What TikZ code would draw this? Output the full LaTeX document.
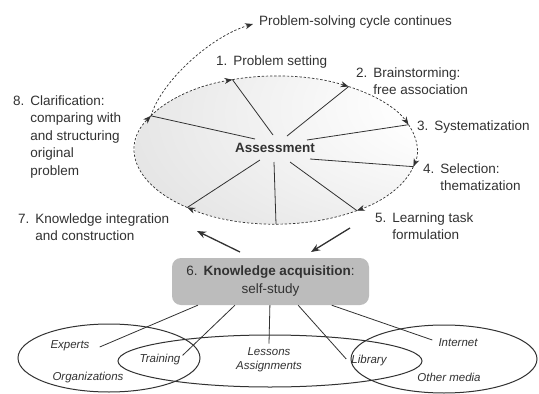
\documentclass[tikz,border=0pt]{standalone}
\usepackage{fontspec}
\setmainfont{Liberation Sans}
\usetikzlibrary{arrows.meta,calc}
\definecolor{txt}{RGB}{50,50,50}
\definecolor{boxgray}{RGB}{188,188,188}
\definecolor{shgray}{RGB}{178,178,178}
\definecolor{midgray}{RGB}{218,218,218}
\pgfdeclareradialshading{asmt}{\pgfpoint{45bp}{20bp}}{color(0bp)=(white); color(15bp)=(white); color(65bp)=(midgray); color(100bp)=(shgray)}
\begin{document}
\begin{tikzpicture}[x=1pt,y=-1pt,
  lab/.style={font=\fontsize{13.5}{17.6}\selectfont, text=txt, inner sep=0pt, anchor=base west},
  small/.style={font=\fontsize{11.5}{14}\selectfont\itshape, text=txt, inner sep=0pt},
  cyc/.style={draw=txt, dash pattern=on 2.4pt off 1.8pt, line width=0.7pt, -{Stealth[length=8pt,width=6pt]}},
  spoke/.style={draw=txt, line width=0.8pt},
  bigarrow/.style={draw=txt, line width=1.3pt, -{Stealth[length=9pt,width=7pt]}},
  oval/.style={draw=txt, line width=1pt},
  conn/.style={draw=txt, line width=0.8pt},
  kbox/.style={fill=boxgray, rounded corners=9pt, minimum width=197pt, minimum height=47pt, inner sep=0pt, align=center, text=txt, font=\fontsize{13.5}{18}\selectfont}
]
\useasboundingbox (0,0) rectangle (539,394);
\fill[white] (0,0) rectangle (539,394);

% main ellipse
\coordinate (C) at (276,150);
\shade[shading=asmt] (C) ellipse[x radius=141, y radius=74];
\node[font=\fontsize{13.5}{16}\selectfont\bfseries, text=txt, inner sep=0pt] (A) at (275,148) {Assessment};

% spoke end points on the ellipse
\path (C) ++(252:141 and 74) coordinate (e1);
\path (C) ++(301:141 and 74) coordinate (e2);
\path (C) ++(340:141 and 74) coordinate (e3);
\path (C) ++(13:141 and 74) coordinate (e4);
\path (C) ++(55:141 and 74) coordinate (e5);
\path (C) ++(90:141 and 74) coordinate (e6);
\path (C) ++(129:141 and 74) coordinate (e7);
\path (C) ++(207.5:141 and 74) coordinate (e8);
% spoke start points
\coordinate (s1) at (273,135);
\coordinate (s2) at (287,136);
\coordinate (s3) at (307,140);
\coordinate (s4) at (310,159);
\coordinate (s5) at (290,162);
\coordinate (s6) at (274,162);
\coordinate (s7) at (260,160);
\coordinate (s8) at (255,139);
\foreach \i in {1,...,8} \draw[spoke] (s\i) -- (e\i);

% dashed cycle with arrowheads
\draw[cyc] (e8) arc[start angle=207.5, end angle=252, x radius=141, y radius=74];
\draw[cyc] (e1) arc[start angle=252, end angle=301, x radius=141, y radius=74];
\draw[cyc] (e2) arc[start angle=301, end angle=340, x radius=141, y radius=74];
\draw[cyc] (e3) arc[start angle=340, end angle=373, x radius=141, y radius=74];
\draw[cyc] (e4) arc[start angle=373, end angle=415, x radius=141, y radius=74];
\draw[cyc] (e5) arc[start angle=415, end angle=489, x radius=141, y radius=74];
\draw[cyc] (e7) arc[start angle=489, end angle=567.5, x radius=141, y radius=74];

% cycle continues
\node[lab, anchor=west] (pscc) at (259,22) {Problem-solving cycle continues};
\coordinate (oc) at (253,24);
\draw[cyc] (e8) .. controls (162,80) and (212,36) .. (oc);

% step labels
\node[lab] (l1) at (216,65) {\begin{tabular}[t]{@{}l@{\hspace{6pt}}l@{}}1.&Problem setting\end{tabular}};
\node[lab] (l2) at (356,77) {\begin{tabular}[t]{@{}l@{\hspace{6pt}}l@{}}2.&Brainstorming:\\&free association\end{tabular}};
\node[lab] (l3) at (417,130) {\begin{tabular}[t]{@{}l@{\hspace{6pt}}l@{}}3.&Systematization\end{tabular}};
\node[lab] (l4) at (423,173) {\begin{tabular}[t]{@{}l@{\hspace{6pt}}l@{}}4.&Selection:\\&thematization\end{tabular}};
\node[lab] (l5) at (375,222) {\begin{tabular}[t]{@{}l@{\hspace{6pt}}l@{}}5.&Learning task\\&formulation\end{tabular}};
\node[lab] (l7) at (18,223) {\begin{tabular}[t]{@{}l@{\hspace{6pt}}l@{}}7.&Knowledge integration\\&and construction\end{tabular}};
\node[lab] (l8) at (13,105) {\begin{tabular}[t]{@{}l@{\hspace{6pt}}l@{}}8.&Clarification:\\&comparing with\\&and structuring\\&original\\&problem\end{tabular}};

% knowledge acquisition box
\node[kbox] (box) at (270.5,281.5) {6.\hspace{6pt}\textbf{Knowledge acquisition}:\\self-study};
\coordinate (a7s) at (240,252);
\coordinate (a7e) at (197,231);
\coordinate (a5s) at (350,228);
\coordinate (a5e) at (311,252);
\draw[bigarrow] (a7s) -- (a7e);
\draw[bigarrow] (a5s) -- (a5e);

% bottom ovals
\draw[oval] (109,358) ellipse[x radius=91, y radius=34];
\draw[oval] (270,361) ellipse[x radius=152, y radius=26];
\draw[oval] (444,359) ellipse[x radius=93, y radius=34];

% bottom labels
\node[small] (exp) at (70,346) {Experts};
\node[small] (org) at (88,378) {Organizations};
\node[small] (tra) at (160,360) {Training};
\node[small, align=center] (les) at (269,360) {Lessons\\Assignments};
\node[small] (lib) at (369,361) {Library};
\node[small] (int) at (458,343) {Internet};
\node[small] (oth) at (449,377) {Other media};

% connectors
\draw[conn] ($(box.south west)!0.132!(box.south east)$) -- ([xshift=10pt,yshift=-1pt]exp.east);
\draw[conn] ($(box.south west)!0.32!(box.south east)$) -- ([xshift=2pt,yshift=-1pt]tra.north east);
\draw[conn] ($(box.south west)!0.497!(box.south east)$) -- ([yshift=4pt]les.north);
\draw[conn] ($(box.south west)!0.64!(box.south east)$) -- ([xshift=-5pt,yshift=2pt]lib.west);
\draw[conn] ($(box.south west)!0.81!(box.south east)$) -- ([xshift=-6pt,yshift=3pt]int.west);
\end{tikzpicture}
\end{document}
